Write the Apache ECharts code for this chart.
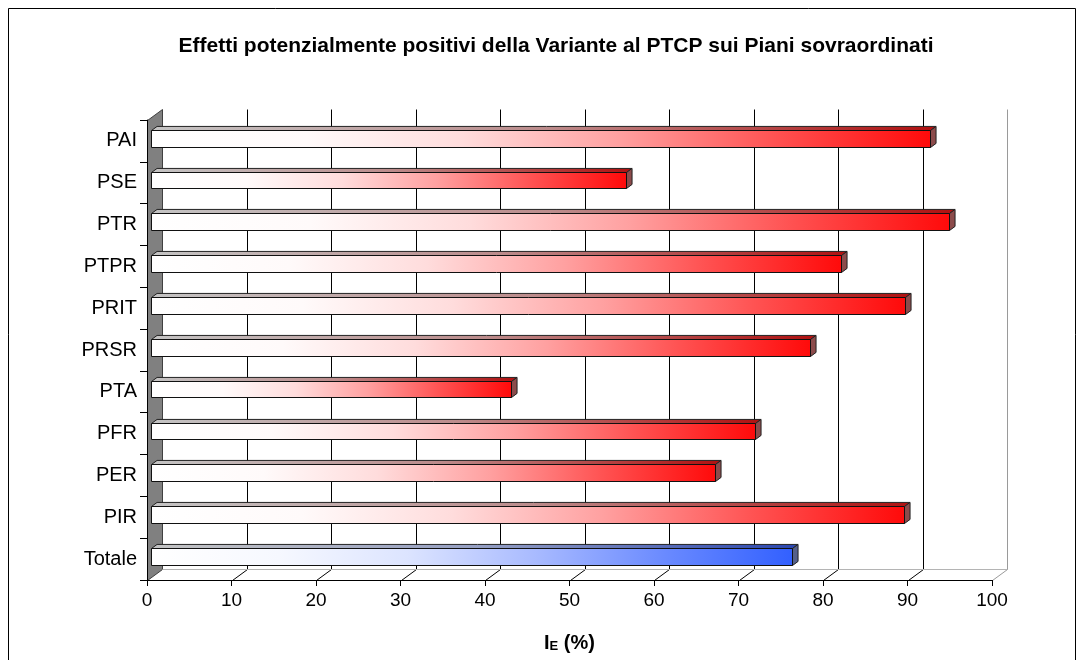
<!DOCTYPE html>
<html>
<head>
<meta charset="utf-8">
<script src="https://cdn.jsdelivr.net/npm/echarts@6/dist/echarts.min.js"></script>
<style>
html,body{margin:0;padding:0;background:#fff;}
#c{width:1084px;height:660px;}
</style>
</head>
<body>
<div id="c"></div>
<script>
const categories = ['PAI','PSE','PTR','PTPR','PRIT','PRSR','PTA','PFR','PER','PIR','Totale'];
const values = [92.2, 56.2, 94.5, 81.7, 89.3, 78.0, 42.6, 71.5, 66.8, 89.1, 75.9];
const xTicks = [0,10,20,30,40,50,60,70,80,90,100];
const titleText = 'Effetti potenzialmente positivi della Variante al PTCP sui Piani sovraordinati';

const DX = 15, DY = -11;
const FONT = 'Liberation Sans, Arial, sans-serif';
const px = v => Math.round(v) + 0.5;

const redFront = [
  {offset:0,color:'#FFFFFF'},{offset:0.2,color:'#FFFAFA'},{offset:0.4,color:'#FFDCDC'},
  {offset:0.6,color:'#FFA0A0'},{offset:0.8,color:'#FF5252'},{offset:1,color:'#FF0A0A'}];
const blueFront = [
  {offset:0,color:'#FFFFFF'},{offset:0.2,color:'#F6F8FF'},{offset:0.4,color:'#DCE4FF'},
  {offset:0.6,color:'#A8BAFF'},{offset:0.8,color:'#6A8AFF'},{offset:1,color:'#3260FF'}];
const redTop = [{offset:0,color:'#C4C4C4'},{offset:0.5,color:'#BC8C8C'},{offset:1,color:'#B01010'}];
const blueTop = [{offset:0,color:'#C4C4C4'},{offset:0.5,color:'#96A0C4'},{offset:1,color:'#2A46B0'}];

function renderFrame(params, api) {
  const cs = params.coordSys;
  const x0 = px(cs.x), x1 = px(cs.x + cs.width), y0 = px(cs.y), y1 = px(cs.y + cs.height);
  const ch = [];
  ch.push({type:'polygon', shape:{points:[[x0,y1],[x1,y1],[x1+DX,y1+DY],[x0+DX,y1+DY]]},
    style:{fill:'#fff', stroke:null}});
  ch.push({type:'polygon', shape:{points:[[x0,y0],[x0+DX,y0+DY],[x0+DX,y1+DY],[x0,y1]]},
    style:{fill:'#808080', stroke:'#404040', lineWidth:1}});
  xTicks.forEach(v => {
    const x = px(api.coord([v, 0])[0]);
    if (v > 0 && v < 100) {
      ch.push({type:'line', shape:{x1:x+DX,y1:y0+DY,x2:x+DX,y2:y1+DY}, style:{stroke:'#000', lineWidth:1}});
    }
    if (v > 0) {
      ch.push({type:'line', shape:{x1:x,y1:y1,x2:x+DX,y2:y1+DY},
        style:{stroke: v === 100 ? '#9A9A9A' : '#000', lineWidth:1}});
    }
  });
  ch.push({type:'line', shape:{x1:x0+DX,y1:y1+DY,x2:x1+DX,y2:y1+DY}, style:{stroke:'#B4B4B4', lineWidth:1}});
  ch.push({type:'line', shape:{x1:x1+DX,y1:y0+DY,x2:x1+DX,y2:y1+DY}, style:{stroke:'#9A9A9A', lineWidth:1}});
  return {type:'group', children:ch};
}

function renderBar(params, api) {
  const v = api.value(0), c = api.value(1);
  const p0 = api.coord([0, c]), p1 = api.coord([v, c]);
  const band = api.size([0, 1])[1];
  const h = band * 0.4;
  const ox = DX * 0.25, oy = DY * 0.25, dx = DX * 0.37, dy = DY * 0.37;
  const xl = Math.round(p0[0] + ox) + 0.5, xr = Math.round(p1[0] + ox) + 0.5;
  const yt = Math.round(p0[1] - h / 2 + oy) + 0.5, yb = Math.round(p0[1] + h / 2 + oy) + 0.5;
  const isTot = categories[c] === 'Totale';
  const G = echarts.graphic.LinearGradient;
  return {type:'group', children:[
    {type:'polygon', shape:{points:[[xl,yt],[xr,yt],[xr+dx,yt+dy],[xl+dx,yt+dy]]},
      style:{fill:new G(0,0,1,0,isTot?blueTop:redTop), stroke:'#222', lineWidth:1}},
    {type:'polygon', shape:{points:[[xr,yt],[xr+dx,yt+dy],[xr+dx,yb+dy],[xr,yb]]},
      style:{fill:isTot?'#55608A':'#8C4B4B', stroke:'#222', lineWidth:1}},
    {type:'rect', shape:{x:xl, y:yt, width:xr-xl, height:yb-yt},
      style:{fill:new G(0,0,1,0,isTot?blueFront:redFront), stroke:'#111', lineWidth:1}}
  ]};
}

const chart = echarts.init(document.getElementById('c'), null, {renderer:'canvas'});
chart.setOption({
  backgroundColor:'#fff',
  animation:false,
  graphic:[
    {type:'rect', shape:{x:8.5, y:8.5, width:1067, height:700}, style:{fill:null, stroke:'#000', lineWidth:1}, z:-1},
    {type:'text', x:556, y:46, style:{text:titleText, font:'bold 21px '+FONT, fill:'#000', textAlign:'center', textVerticalAlign:'middle'}}
  ],
  grid:{left:147, right:92, top:120, bottom:80},
  xAxis:{type:'value', min:0, max:100, interval:10, z:5,
    axisLine:{show:true, lineStyle:{color:'#000', width:1}},
    axisTick:{show:true, length:6, lineStyle:{color:'#000'}},
    axisLabel:{fontSize:19, color:'#000', margin:11, fontFamily:FONT},
    splitLine:{show:false},
    name:'{a|I}{b|E}{a| (%)}', nameLocation:'middle', nameGap:49,
    nameTextStyle:{rich:{
      a:{fontSize:20, fontWeight:'bold', color:'#000', fontFamily:FONT, lineHeight:24, verticalAlign:'bottom'},
      b:{fontSize:13, fontWeight:'bold', color:'#000', fontFamily:FONT, lineHeight:13, verticalAlign:'bottom'}}}
  },
  yAxis:{type:'category', data:categories, inverse:true, z:5,
    axisLine:{show:true, lineStyle:{color:'#000', width:1}},
    axisTick:{show:true, length:7, lineStyle:{color:'#000'}},
    axisLabel:{fontSize:20, color:'#000', margin:10, fontFamily:FONT},
    splitLine:{show:false}
  },
  series:[
    {type:'custom', name:'frame', renderItem:renderFrame, data:[[0,0]], z:1, silent:true, clip:false},
    {type:'custom', name:'IE', renderItem:renderBar, z:3, clip:false,
      encode:{x:0, y:1}, data:values.map((v,i)=>[v,i])}
  ]
});
</script>
</body>
</html>
